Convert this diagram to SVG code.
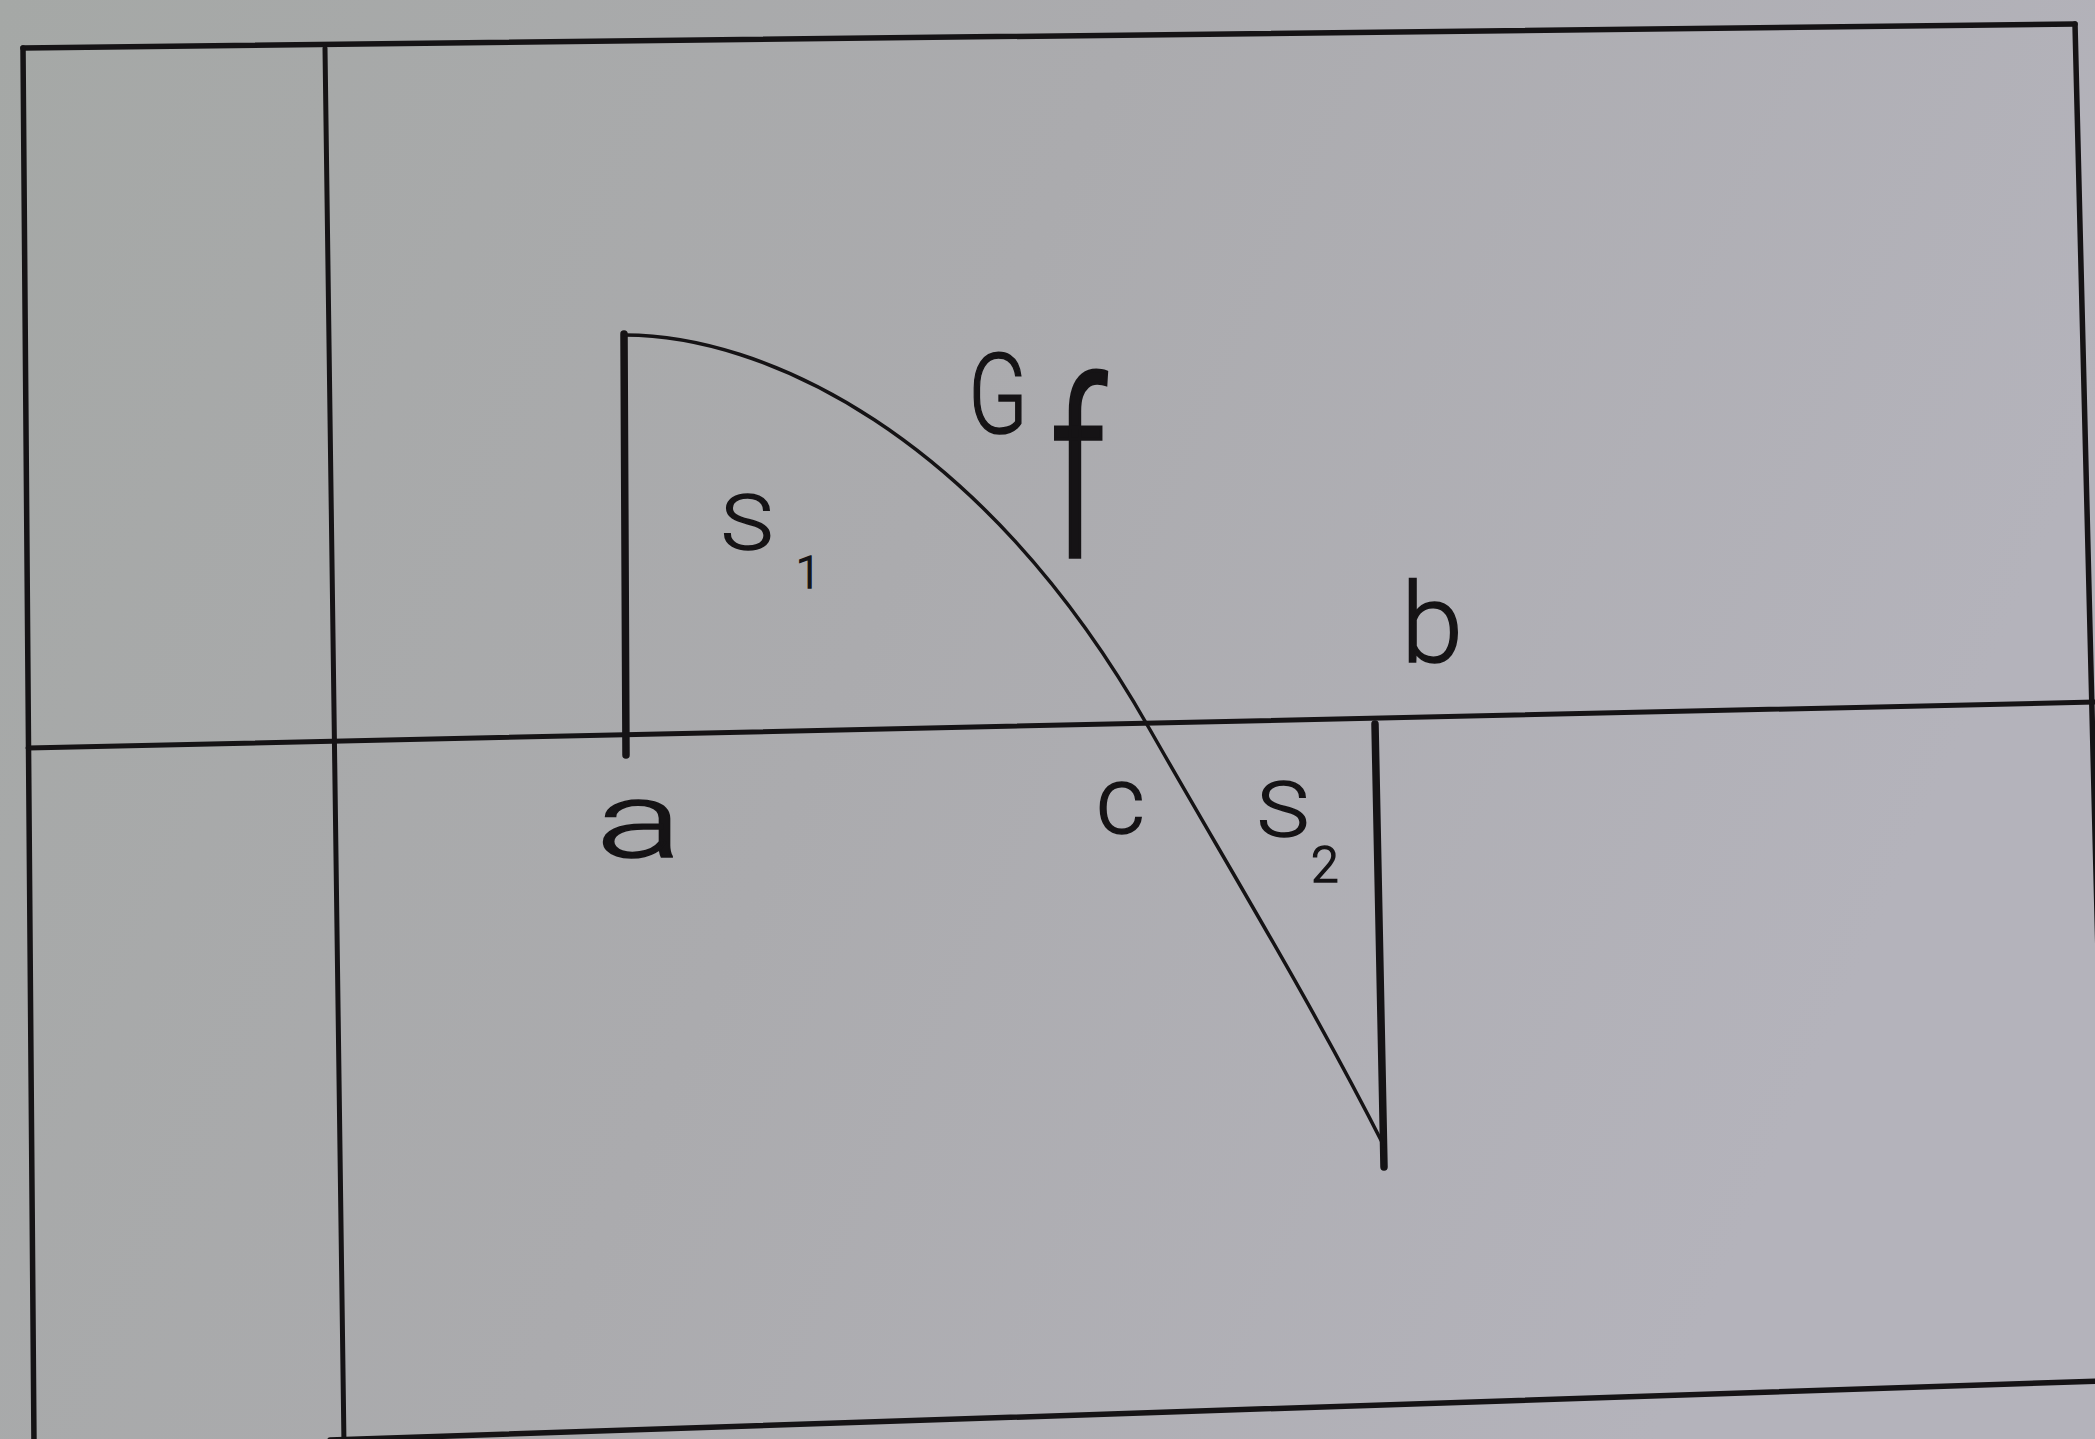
<svg xmlns="http://www.w3.org/2000/svg" width="2095" height="1439" viewBox="0 0 2095 1439">
  <defs>
    <linearGradient id="paper" x1="0" y1="0" x2="1" y2="0.3">
      <stop offset="0" stop-color="#a5a8a6"/>
      <stop offset="0.5" stop-color="#ababae"/>
      <stop offset="1" stop-color="#b4b3bb"/>
    </linearGradient>
    <style>
      .ln { stroke: #151315; fill: none; stroke-linecap: round; }
      .frame { stroke-width: 5.5; }
      .axis { stroke-width: 5; }
      .bar { stroke-width: 7.5; }
      .curve { stroke-width: 3.5; }
      .lbl { font-family: Roboto, "DejaVu Sans", sans-serif; font-weight: 300; fill: #151315; stroke: #151315; stroke-width: 1.5; }
    </style>
  </defs>
  <rect x="0" y="0" width="2095" height="1439" fill="url(#paper)"/>

  <g id="frame">
    <line class="ln frame" x1="23" y1="48" x2="2075" y2="24"/>
    <line class="ln frame" x1="23" y1="48" x2="34" y2="1445"/>
    <line class="ln frame" x1="2075" y1="24" x2="2110" y2="1439"/>
    <line class="ln frame" x1="330" y1="1440" x2="2100" y2="1381"/>
  </g>

  <g id="axes">
    <line class="ln axis" x1="325" y1="48" x2="344" y2="1445"/>
    <line class="ln axis" x1="28" y1="748" x2="2100" y2="702"/>
  </g>

  <g id="graph">
    <line class="ln bar" x1="624" y1="334" x2="626" y2="755"/>
    <line class="ln bar" x1="1375" y1="724" x2="1384" y2="1167"/>
    <path class="ln curve" d="M625,335 C760,335 980,430 1149,728 C1230,870 1310,1000 1384,1146"/>
  </g>

  <g id="labels">
    <text class="lbl" x="968" y="433" font-size="112" textLength="60" lengthAdjust="spacingAndGlyphs">G</text>
    <text class="lbl" font-size="100" transform="translate(1050,557) scale(1,2.45)" textLength="56" lengthAdjust="spacingAndGlyphs">f</text>
    <text class="lbl" x="721" y="549" font-size="76" textLength="52" lengthAdjust="spacingAndGlyphs">S</text>
    <text class="lbl" x="796" y="588" font-size="44">1</text>
    <text class="lbl" x="1401" y="662" font-size="112">b</text>
    <text class="lbl" x="596" y="857" font-size="106" textLength="86" lengthAdjust="spacingAndGlyphs">a</text>
    <text class="lbl" x="1096" y="833" font-size="95">c</text>
    <text class="lbl" x="1257" y="836" font-size="76" textLength="52" lengthAdjust="spacingAndGlyphs">S</text>
    <text class="lbl" x="1311" y="882" font-size="50">2</text>
  </g>
</svg>
